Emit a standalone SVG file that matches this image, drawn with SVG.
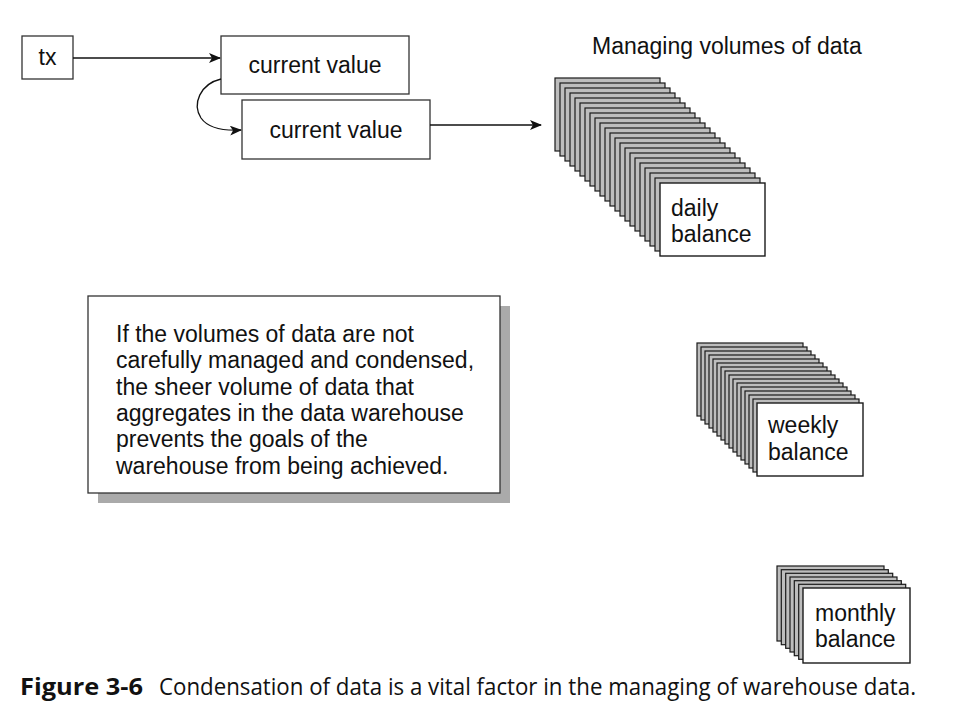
<svg xmlns="http://www.w3.org/2000/svg" width="978" height="715" viewBox="0 0 978 715">
<style>
.bx{fill:#fff;stroke:#333;stroke-width:1.3}
.c{fill:#bdbdbd;stroke:#1a1a1a;stroke-width:1.2}
.f{fill:#fff;stroke:#1a1a1a;stroke-width:1.4}
.t{font-family:"Liberation Sans",Arial,sans-serif;font-size:23px;fill:#111}
.ln{fill:none;stroke:#111;stroke-width:1.3}
.cap{font-family:"Open Sans","Noto Sans",sans-serif;font-size:23px;fill:#111}
</style>
<defs>
<marker id="ah" markerWidth="12" markerHeight="10" refX="11" refY="5" orient="auto" markerUnits="userSpaceOnUse">
<path d="M0,0 L12,5 L0,10 L3,5 Z" fill="#111"/>
</marker>
</defs>
<rect width="978" height="715" fill="#fff"/>

<g id="tx">
<rect class="bx" x="22" y="36" width="51" height="43"/>
<text class="t" x="47.5" y="65" text-anchor="middle">tx</text>
</g>
<g id="current-value-1">
<rect class="bx" x="221" y="36" width="188" height="58"/>
<text class="t" x="315" y="73" text-anchor="middle">current value</text>
</g>
<g id="current-value-2">
<rect class="bx" x="242" y="100" width="188" height="59"/>
<text class="t" x="336" y="138" text-anchor="middle">current value</text>
</g>

<g id="connectors">
<line class="ln" x1="73" y1="58" x2="220" y2="58" marker-end="url(#ah)"/>
<path class="ln" d="M221,79 C200,84 192,104 201,118 C208,128 222,131 241,130" marker-end="url(#ah)"/>
<line class="ln" x1="430" y1="125" x2="541" y2="125" marker-end="url(#ah)"/>
</g>

<g id="title">
<text class="t" x="592" y="54" font-size="22.5">Managing volumes of data</text>
</g>

<g id="daily-balance">
<rect class="c" x="555" y="78" width="105" height="73"/>
<rect class="c" x="560" y="83" width="105" height="73"/>
<rect class="c" x="565" y="88" width="105" height="73"/>
<rect class="c" x="570" y="93" width="105" height="73"/>
<rect class="c" x="575" y="98" width="105" height="73"/>
<rect class="c" x="580" y="103" width="105" height="73"/>
<rect class="c" x="585" y="108" width="105" height="73"/>
<rect class="c" x="590" y="113" width="105" height="73"/>
<rect class="c" x="595" y="118" width="105" height="73"/>
<rect class="c" x="600" y="123" width="105" height="73"/>
<rect class="c" x="605" y="128" width="105" height="73"/>
<rect class="c" x="610" y="133" width="105" height="73"/>
<rect class="c" x="615" y="138" width="105" height="73"/>
<rect class="c" x="620" y="143" width="105" height="73"/>
<rect class="c" x="625" y="148" width="105" height="73"/>
<rect class="c" x="630" y="153" width="105" height="73"/>
<rect class="c" x="635" y="158" width="105" height="73"/>
<rect class="c" x="640" y="163" width="105" height="73"/>
<rect class="c" x="645" y="168" width="105" height="73"/>
<rect class="c" x="650" y="173" width="105" height="73"/>
<rect class="c" x="655" y="178" width="105" height="73"/>
<rect class="f" x="660" y="183" width="105" height="73"/>
<text class="t" x="671" y="216">daily</text>
<text class="t" x="671" y="242">balance</text>
</g>

<g id="weekly-balance">
<rect class="c" x="697" y="343" width="106" height="73"/>
<rect class="c" x="701" y="347" width="106" height="73"/>
<rect class="c" x="705" y="351" width="106" height="73"/>
<rect class="c" x="709" y="355" width="106" height="73"/>
<rect class="c" x="713" y="359" width="106" height="73"/>
<rect class="c" x="717" y="363" width="106" height="73"/>
<rect class="c" x="721" y="367" width="106" height="73"/>
<rect class="c" x="725" y="371" width="106" height="73"/>
<rect class="c" x="729" y="375" width="106" height="73"/>
<rect class="c" x="733" y="379" width="106" height="73"/>
<rect class="c" x="737" y="383" width="106" height="73"/>
<rect class="c" x="741" y="387" width="106" height="73"/>
<rect class="c" x="745" y="391" width="106" height="73"/>
<rect class="c" x="749" y="395" width="106" height="73"/>
<rect class="c" x="753" y="399" width="106" height="73"/>
<rect class="f" x="757" y="403" width="106" height="73"/>
<text class="t" x="768" y="433">weekly</text>
<text class="t" x="768" y="460">balance</text>
</g>

<g id="monthly-balance">
<rect class="c" x="777" y="566" width="107" height="75"/>
<rect class="c" x="781.3" y="569.7" width="107" height="75"/>
<rect class="c" x="785.7" y="573.3" width="107" height="75"/>
<rect class="c" x="790" y="577" width="107" height="75"/>
<rect class="c" x="794.3" y="580.7" width="107" height="75"/>
<rect class="c" x="798.7" y="584.3" width="107" height="75"/>
<rect class="f" x="803" y="588" width="107" height="75"/>
<text class="t" x="815" y="621">monthly</text>
<text class="t" x="815" y="647">balance</text>
</g>

<g id="note">
<rect x="98" y="306" width="412" height="197" fill="#aaa"/>
<rect class="bx" x="88" y="296" width="412" height="197"/>
<text class="t" x="116" y="342">If the volumes of data are not</text>
<text class="t" x="116" y="368">carefully managed and condensed,</text>
<text class="t" x="116" y="395">the sheer volume of data that</text>
<text class="t" x="116" y="421">aggregates in the data warehouse</text>
<text class="t" x="116" y="447">prevents the goals of the</text>
<text class="t" x="116" y="474">warehouse from being achieved.</text>
</g>

<g id="caption">
<text class="cap" x="20" y="695" font-weight="bold" textLength="123" lengthAdjust="spacingAndGlyphs">Figure 3-6</text>
<text class="cap" x="159" y="695" textLength="757" lengthAdjust="spacingAndGlyphs">Condensation of data is a vital factor in the managing of warehouse data.</text>
</g>
</svg>
